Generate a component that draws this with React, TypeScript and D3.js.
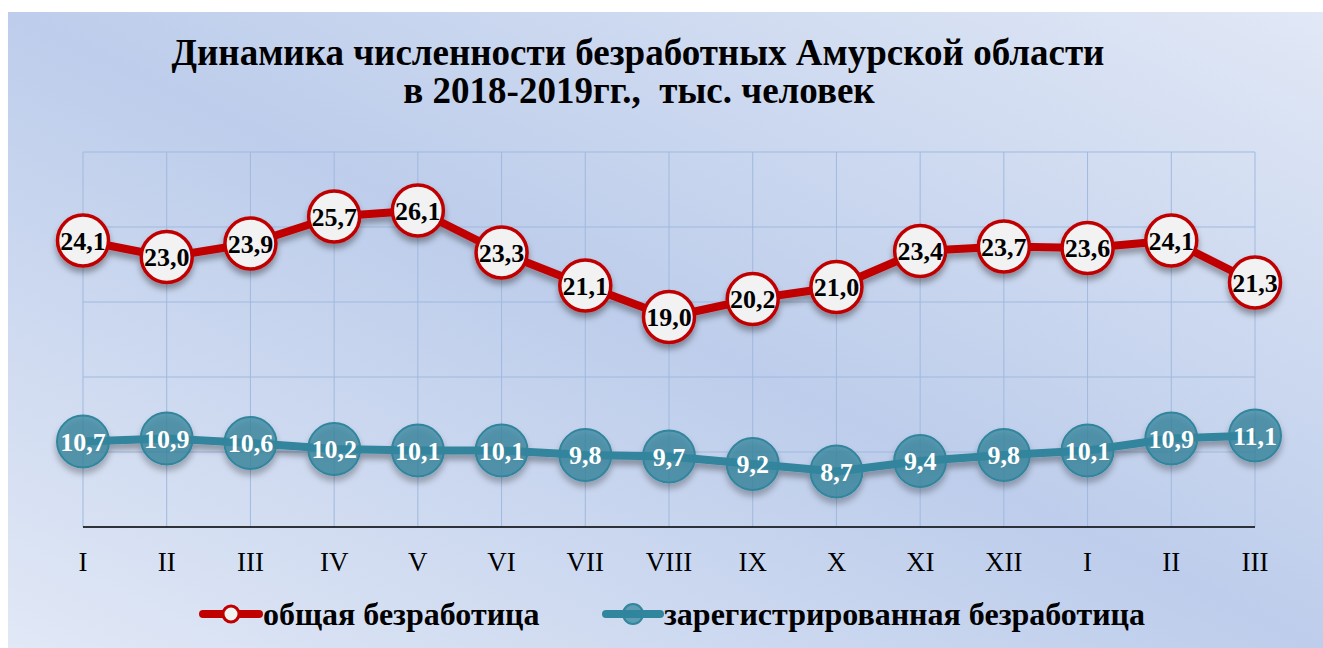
import React from "react";
import * as d3 from "d3";

const categories = ["I", "II", "III", "IV", "V", "VI", "VII", "VIII", "IX", "X", "XI", "XII", "I", "II", "III"];
const totalUnemployment = [24.1, 23.0, 23.9, 25.7, 26.1, 23.3, 21.1, 19.0, 20.2, 21.0, 23.4, 23.7, 23.6, 24.1, 21.3];
const registeredUnemployment = [10.7, 10.9, 10.6, 10.2, 10.1, 10.1, 9.8, 9.7, 9.2, 8.7, 9.4, 9.8, 10.1, 10.9, 11.1];
const yTicks = [5, 10, 15, 20, 25, 30];
const titleLines = ["Динамика численности безработных Амурской области", "в 2018-2019гг.,  тыс. человек"];
const seriesNames = ["общая безработица", "зарегистрированная безработица"];

const W = 1323;
const H = 648;
const FONT = "'Liberation Serif', 'Times New Roman', serif";
const RED = "#c00000";
const TEAL = "#31859c";

export default function App() {
  const x = d3.scalePoint<number>().domain(d3.range(categories.length)).range([83, 1255]);
  const y = d3.scaleLinear().domain([5, 30]).range([527, 152]);
  const line = d3.line<number>().x((_, i) => x(i)!).y((d) => y(d));
  const fmt = (v: number) => v.toFixed(1).replace(".", ",");

  return (
    <svg width={W} height={H} style={{ position: "absolute", left: 0, top: 0, background: "#fff" }}>
      <defs>
        <linearGradient id="bg" x1="0" y1="1" x2="1" y2="0">
          <stop offset="0" stopColor="#e1e8f6" />
          <stop offset="0.5" stopColor="#bdcdeb" />
          <stop offset="1" stopColor="#e1e8f6" />
        </linearGradient>
        <filter id="shadow" x="-10%" y="-30%" width="120%" height="160%">
          <feDropShadow dx="0" dy="5" stdDeviation="3" floodColor="#000" floodOpacity="0.35" />
        </filter>
      </defs>
      <rect x={8} y={12} width={W - 8} height={H - 12} fill="url(#bg)" />

      {/* title */}
      <text x={638} y={65} textAnchor="middle" fontFamily={FONT} fontWeight="bold" fontSize={37} fill="#000" style={{ whiteSpace: "pre" }}>
        {titleLines[0]}
      </text>
      <text x={639} y={103} textAnchor="middle" fontFamily={FONT} fontWeight="bold" fontSize={37} fill="#000" style={{ whiteSpace: "pre" }}>
        {titleLines[1]}
      </text>

      {/* grid */}
      {yTicks.map((t) => (
        <line key={"h" + t} x1={83} x2={1255} y1={y(t)} y2={y(t)} stroke="#9fb9de" strokeWidth={1} />
      ))}
      {categories.map((_, i) => (
        <line key={"v" + i} x1={x(i)} x2={x(i)} y1={y(30)} y2={y(5)} stroke="#9fb9de" strokeWidth={1} />
      ))}
      <line x1={83} x2={1255} y1={y(5)} y2={y(5)} stroke="#000" strokeWidth={1.5} />

      {/* category labels */}
      {categories.map((c, i) => (
        <text key={"c" + i} x={x(i)} y={571} textAnchor="middle" fontFamily={FONT} fontSize={27} fill="#000">
          {c}
        </text>
      ))}

      {/* registered series */}
      <g filter="url(#shadow)">
        <path d={line(registeredUnemployment)!} fill="none" stroke={TEAL} strokeWidth={8} strokeLinejoin="round" />
        {registeredUnemployment.map((v, i) => (
          <circle key={"rc" + i} cx={x(i)} cy={y(v)} r={26} fill={TEAL} fillOpacity={0.72} stroke={TEAL} strokeWidth={2} />
        ))}
      </g>
      {registeredUnemployment.map((v, i) => (
        <text key={"rt" + i} x={x(i)!} y={y(v)} dy="0.35em" textAnchor="middle" fontFamily={FONT} fontWeight="bold" fontSize={26} fill="#fff">
          {fmt(v)}
        </text>
      ))}

      {/* total series */}
      <g filter="url(#shadow)">
        <path d={line(totalUnemployment)!} fill="none" stroke={RED} strokeWidth={8} strokeLinejoin="round" />
        {totalUnemployment.map((v, i) => (
          <circle key={"tc" + i} cx={x(i)} cy={y(v)} r={25.5} fill="#f2f2f2" stroke={RED} strokeWidth={3.5} />
        ))}
      </g>
      {totalUnemployment.map((v, i) => (
        <text key={"tt" + i} x={x(i)!} y={y(v)} dy="0.35em" textAnchor="middle" fontFamily={FONT} fontWeight="bold" fontSize={26} fill="#000">
          {fmt(v)}
        </text>
      ))}

      {/* legend */}
      <g>
        <line x1={203} x2={259} y1={614} y2={614} stroke={RED} strokeWidth={8} strokeLinecap="round" />
        <circle cx={231} cy={614} r={8} fill="#f2f2f2" stroke={RED} strokeWidth={3} />
        <text x={263} y={625} fontFamily={FONT} fontWeight="bold" fontSize={32} fill="#000">
          {seriesNames[0]}
        </text>
        <line x1={606} x2={660} y1={614} y2={614} stroke={TEAL} strokeWidth={8} strokeLinecap="round" />
        <circle cx={633} cy={614} r={10} fill={TEAL} fillOpacity={0.72} stroke={TEAL} strokeWidth={2} />
        <text x={664} y={625} fontFamily={FONT} fontWeight="bold" fontSize={32} fill="#000">
          {seriesNames[1]}
        </text>
      </g>
    </svg>
  );
}
